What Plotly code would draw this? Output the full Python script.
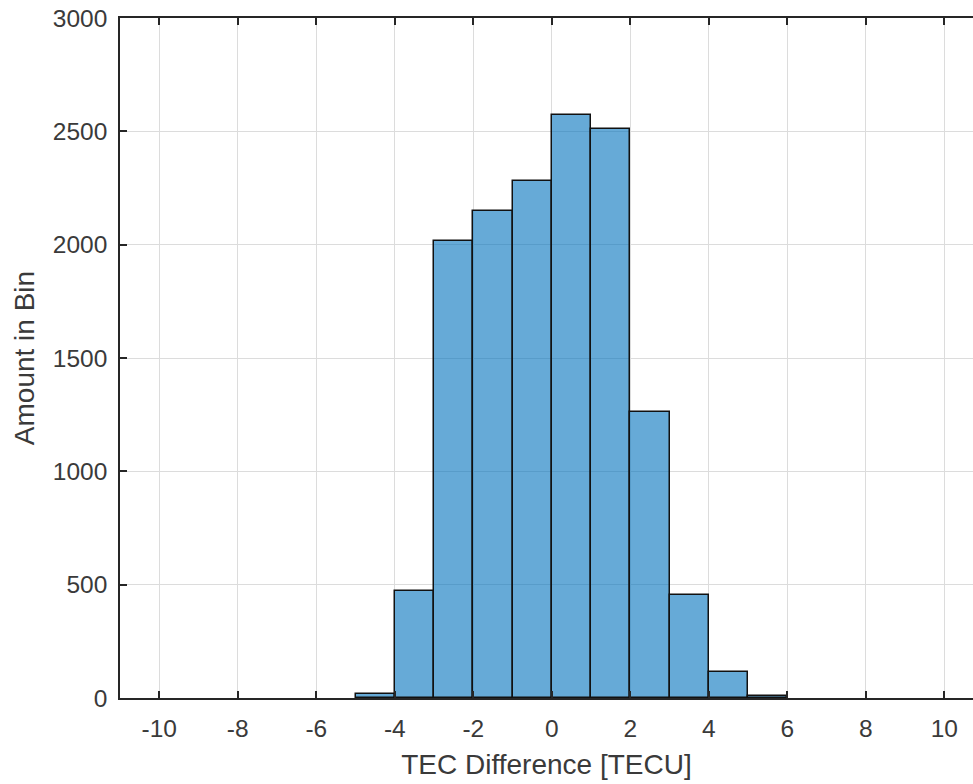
import plotly.graph_objects as go

bin_edges = [-5, -4, -3, -2, -1, 0, 1, 2, 3, 4, 5, 6]
counts = [17, 473, 2018, 2150, 2282, 2572, 2510, 1263, 455, 113, 7]
x_ticks = [-10, -8, -6, -4, -2, 0, 2, 4, 6, 8, 10]
y_ticks = [0, 500, 1000, 1500, 2000, 2500, 3000]

centers = [(a + b) / 2 for a, b in zip(bin_edges[:-1], bin_edges[1:])]
widths = [b - a for a, b in zip(bin_edges[:-1], bin_edges[1:])]

fig = go.Figure()
fig.add_trace(go.Bar(
    x=centers, y=counts, width=widths,
    marker=dict(color="rgba(0,114,189,0.6)", line=dict(color="#111111", width=1.5)),
))

font = "Liberation Sans, Arial, sans-serif"
axis_col = "#262626"
text_col = "#3a3a3a"
fig.update_layout(
    width=973, height=784,
    margin=dict(l=120, r=0, t=18, b=86),
    plot_bgcolor="white", paper_bgcolor="white",
    showlegend=False, bargap=0,
    font=dict(family=font, size=24.5, color=text_col),
)
fig.update_xaxes(
    range=[-11, 10.73], tickvals=x_ticks, ticktext=[str(v) for v in x_ticks],
    showgrid=True, gridcolor="#dcdcdc", gridwidth=1,
    showline=True, linecolor=axis_col, linewidth=1.5, mirror="ticks",
    ticks="inside", ticklen=7, tickcolor=axis_col, tickwidth=1.5,
    zeroline=False, ticklabelstandoff=8,
    title=dict(text="TEC Difference [TECU]", font=dict(size=28, color=text_col), standoff=13),
)
fig.update_yaxes(
    range=[0, 3000], tickvals=y_ticks,
    showgrid=True, gridcolor="#dcdcdc", gridwidth=1,
    showline=True, linecolor=axis_col, linewidth=1.5, mirror=False,
    ticks="inside", ticklen=7, tickcolor=axis_col, tickwidth=1.5,
    zeroline=False, ticklabelstandoff=6,
    title=dict(text="Amount in Bin", font=dict(size=28, color=text_col), standoff=10),
)
fig.write_html("out.html")
